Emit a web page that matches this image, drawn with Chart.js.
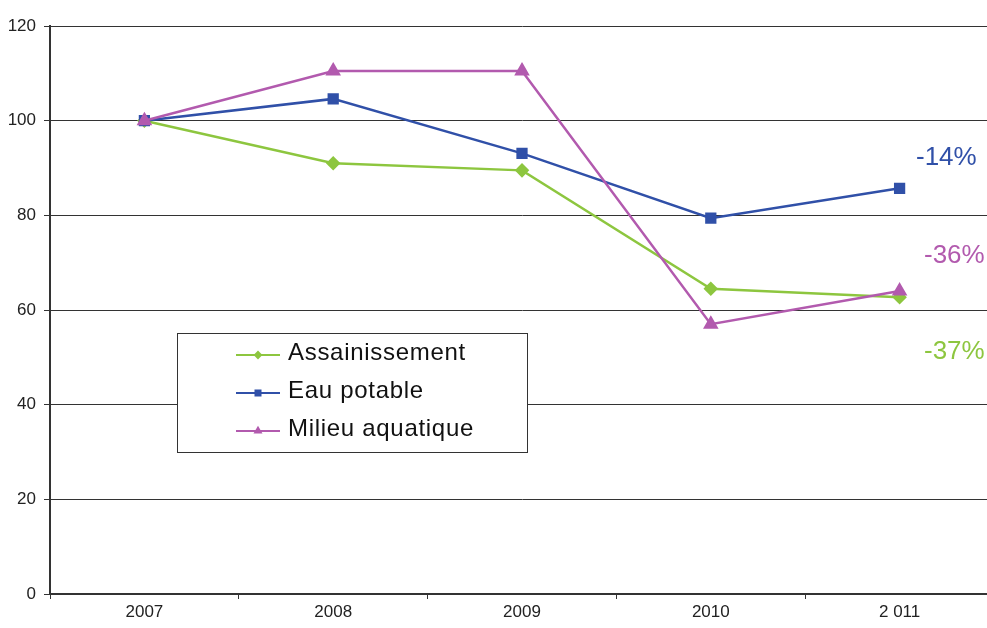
<!DOCTYPE html>
<html>
<head>
<meta charset="utf-8">
<script src="https://cdn.jsdelivr.net/npm/chart.js@4/dist/chart.umd.min.js"></script>
<style>
  html, body { margin: 0; padding: 0; background: #fff; overflow: hidden; }
  /* le graphique d'origine déborde à droite : on élargit un peu le cadre */
  #wrap { position: relative; width: 994px; height: 628px; }
  canvas { display: block; }
</style>
</head>
<body>
<div id="wrap"><canvas id="graf"></canvas></div>
<script>
// ===== Datos =====
const annees = ["2007", "2008", "2009", "2010", "2 011"];
const assainissement = [100, 91, 89.5, 64.5, 62.7];
const eauPotable = [100, 104.6, 93.1, 79.4, 85.7];
const milieuAquatique = [100, 110.5, 110.5, 57, 64];
const variations = ["-37%", "-14%", "-36%"]; // même ordre que les séries
const ticksY = [0, 20, 40, 60, 80, 100, 120];

const VERT = '#8DC63F', BLEU = '#3050A8', VIOLET = '#B25AAE';
const POLICE = '"Liberation Sans", Arial, sans-serif';

// ===== Plugins =====
const legendeInterne = {
  id: 'legendeInterne',
  afterDraw(chart) {
    const ctx = chart.ctx;
    const x0 = 177.5, y0 = 333.5, w = 350, h = 119;
    ctx.save();
    ctx.fillStyle = '#fff';
    ctx.fillRect(x0, y0, w, h);
    ctx.strokeStyle = '#333';
    ctx.lineWidth = 1;
    ctx.strokeRect(x0, y0, w, h);
    ctx.font = '24px ' + POLICE;
    ctx.letterSpacing = '0.7px';
    ctx.textBaseline = 'middle';
    chart.data.datasets.forEach((ds, i) => {
      const y = 355 + i * 38;
      ctx.strokeStyle = ds.borderColor;
      ctx.lineWidth = 2;
      ctx.beginPath(); ctx.moveTo(236, y); ctx.lineTo(280, y); ctx.stroke();
      ctx.fillStyle = ds.backgroundColor;
      Chart.helpers.drawPoint(ctx, { pointStyle: ds.pointStyle, radius: ds.pointRadius * 0.8, borderWidth: 0 }, 258, y);
      ctx.fillStyle = '#111';
      ctx.fillText(ds.label, 288, y - 2);
    });
    ctx.restore();
  }
};

const etiquettesVariation = {
  id: 'etiquettesVariation',
  afterDraw(chart) {
    const ctx = chart.ctx;
    const pos = [[924, 352], [916, 158], [924, 256]];
    ctx.save();
    ctx.font = '26px ' + POLICE;
    ctx.textBaseline = 'middle';
    chart.data.datasets.forEach((ds, i) => {
      ctx.fillStyle = ds.borderColor;
      ctx.fillText(variations[i], pos[i][0], pos[i][1]);
    });
    ctx.restore();
  }
};

// ===== Graphique =====
new Chart(document.getElementById('graf'), {
  type: 'line',
  data: {
    labels: annees,
    datasets: [
      { label: 'Assainissement', data: assainissement, borderColor: VERT, backgroundColor: VERT,
        pointStyle: 'rectRot', pointRadius: 5.5, borderWidth: 2.5, order: 2 },
      { label: 'Eau potable', data: eauPotable, borderColor: BLEU, backgroundColor: BLEU,
        pointStyle: 'rect', pointRadius: 6.2, borderWidth: 2.5, order: 1 },
      { label: 'Milieu aquatique', data: milieuAquatique, borderColor: VIOLET, backgroundColor: VIOLET,
        pointStyle: 'triangle', pointRadius: 6.5, borderWidth: 2.5, order: 0 }
    ]
  },
  options: {
    responsive: true,
    maintainAspectRatio: false,
    animation: false,
    layout: { autoPadding: false, padding: { top: 26, right: 0, left: 0, bottom: 0 } },
    plugins: { legend: { display: false }, tooltip: { enabled: false } },
    elements: { line: { tension: 0 }, point: { borderWidth: 0 } },
    scales: {
      x: {
        offset: true,
        afterFit: s => { s.height = 34; s.paddingRight = 0; s.paddingLeft = 0; },
        grid: { offset: true, drawOnChartArea: false, drawTicks: true, tickLength: 5, color: '#333' },
        border: { color: '#333', width: 2 },
        ticks: { color: '#222', font: { family: POLICE, size: 17 }, padding: 3, maxRotation: 0 }
      },
      y: {
        min: 0, max: 120,
        afterFit: s => { s.width = 50; },
        afterBuildTicks: s => { s.ticks = ticksY.map(v => ({ value: v })); },
        grid: { color: '#333', lineWidth: 1, tickLength: 6 },
        border: { color: '#333', width: 2 },
        ticks: { color: '#222', font: { family: POLICE, size: 17 }, padding: 8 }
      }
    }
  },
  plugins: [legendeInterne, etiquettesVariation]
});
</script>
</body>
</html>
